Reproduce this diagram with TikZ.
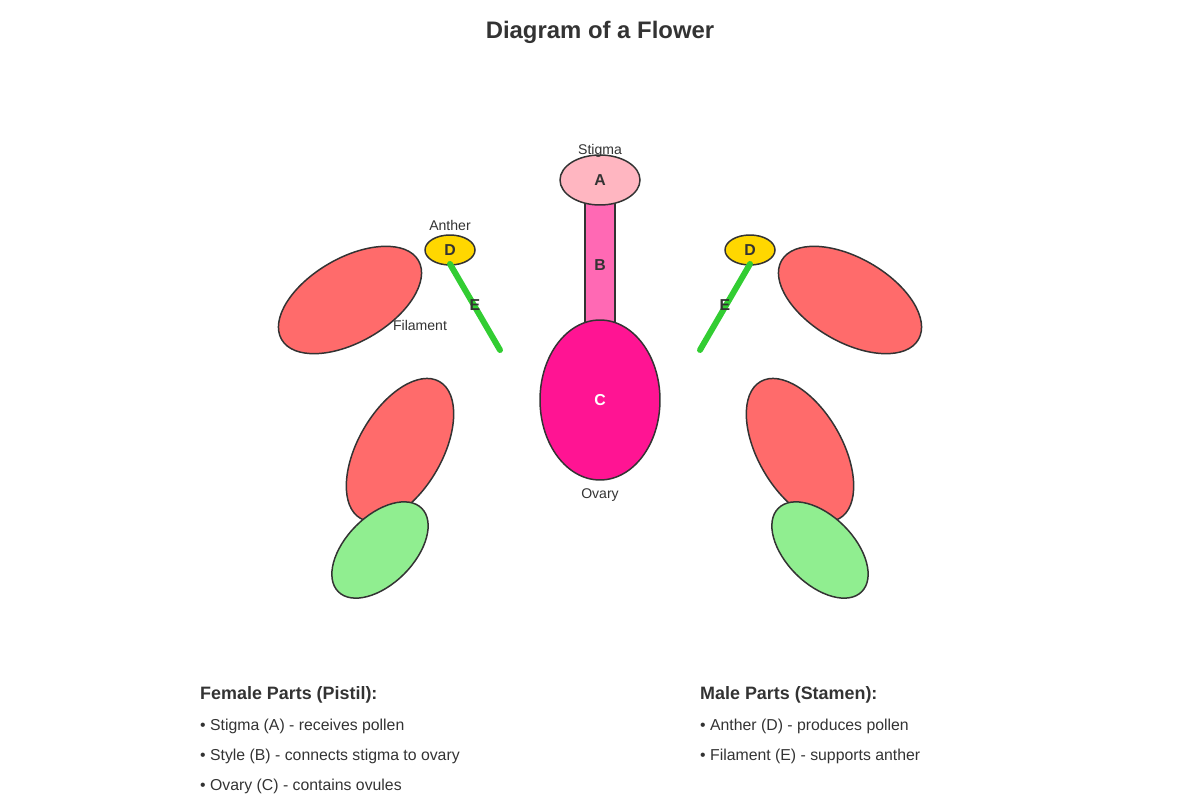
\documentclass[tikz,border=0pt]{standalone}
\usepackage{fontspec}
\setmainfont{Liberation Sans}
\usetikzlibrary{shapes.geometric}
\definecolor{ink}{HTML}{333333}
\definecolor{petalred}{HTML}{FF6B6B}
\definecolor{sepalgreen}{HTML}{90EE90}
\definecolor{stigmapink}{HTML}{FFB6C1}
\definecolor{stylepink}{HTML}{FF69B4}
\definecolor{ovarypink}{HTML}{FF1493}
\definecolor{anthergold}{HTML}{FFD700}
\definecolor{filgreen}{HTML}{32CD32}
\begin{document}
\begin{tikzpicture}[x=0.02cm,y=-0.02cm,text=ink]
  \tikzstyle{part}=[ellipse,draw=ink,line width=0.85pt,inner sep=0pt]
  \tikzstyle{petal}=[part,fill=petalred,minimum width=3.16cm,minimum height=1.68cm]
  \tikzstyle{sepal}=[part,fill=sepalgreen,minimum width=2.36cm,minimum height=1.36cm]
  \tikzstyle{anther}=[part,fill=anthergold,minimum width=1cm,minimum height=0.6cm,font=\fontsize{9}{10}\selectfont\bfseries]
  \tikzstyle{letter}=[font=\fontsize{9}{10}\selectfont\bfseries]
  \tikzstyle{caption}=[font=\fontsize{8}{9}\selectfont]
  \tikzstyle{filament}=[draw=filgreen,line width=3.4pt,line cap=round]
  \tikzstyle{item}=[anchor=west,font=\fontsize{9}{10}\selectfont]
  \useasboundingbox (0,0) rectangle (1200,800);
  \node[font=\fontsize{13.6}{15}\selectfont\bfseries] (title) at (600,32) {Diagram of a Flower};
  % petals
  \node[petal,rotate=30] (petalUL) at (350,300) {};
  \node[petal,rotate=-30] (petalUR) at (850,300) {};
  \node[petal,rotate=60] (petalLL) at (400,450) {};
  \node[petal,rotate=-60] (petalLR) at (800,450) {};
  % sepals
  \node[sepal,rotate=45] (sepalL) at (380,550) {};
  \node[sepal,rotate=-45] (sepalR) at (820,550) {};
  % pistil
  \draw[draw=ink,fill=stylepink,line width=0.85pt] (585,200) rectangle (615,325);
  \node[letter] (B) at (600,265) {B};
  \node[part,fill=stigmapink,minimum width=1.6cm,minimum height=1cm,letter] (stigma) at (600,180) {A};
  \node[part,fill=ovarypink,minimum width=2.4cm,minimum height=3.2cm,letter,text=white] (ovary) at (600,400) {C};
  \node[caption] (stigmalabel) at (600,151) {Stigma};
  \node[caption] (ovarylabel) at (600,495) {Ovary};
  % stamens
  \node[anther] (antherL) at (450,250) {D};
  \node[anther] (antherR) at (750,250) {D};
  \coordinate (filL) at (500,350);
  \coordinate (filR) at (700,350);
  \coordinate (fLtop) at (450,264);
  \coordinate (fRtop) at (750,264);
  \draw[filament] (fLtop) -- (filL);
  \draw[filament] (fRtop) -- (filR);
  \node[letter] (EL) at (475,305) {E};
  \node[letter] (ER) at (725,305) {E};
  \node[caption] (antherlabel) at (450,225) {Anther};
  \node[caption] (filamentlabel) at (420,325) {Filament};
  % legend
  \node[item,font=\fontsize{10.2}{12}\selectfont\bfseries] (female) at (194,695) {Female Parts (Pistil):};
  \node[item] (f1) at (194,726) {• Stigma (A) - receives pollen};
  \node[item] (f2) at (194,756) {• Style (B) - connects stigma to ovary};
  \node[item] (f3) at (194,786) {• Ovary (C) - contains ovules};
  \node[item,font=\fontsize{10.2}{12}\selectfont\bfseries] (male) at (694,695) {Male Parts (Stamen):};
  \node[item] (m1) at (694,726) {• Anther (D) - produces pollen};
  \node[item] (m2) at (694,756) {• Filament (E) - supports anther};
\end{tikzpicture}
\end{document}
